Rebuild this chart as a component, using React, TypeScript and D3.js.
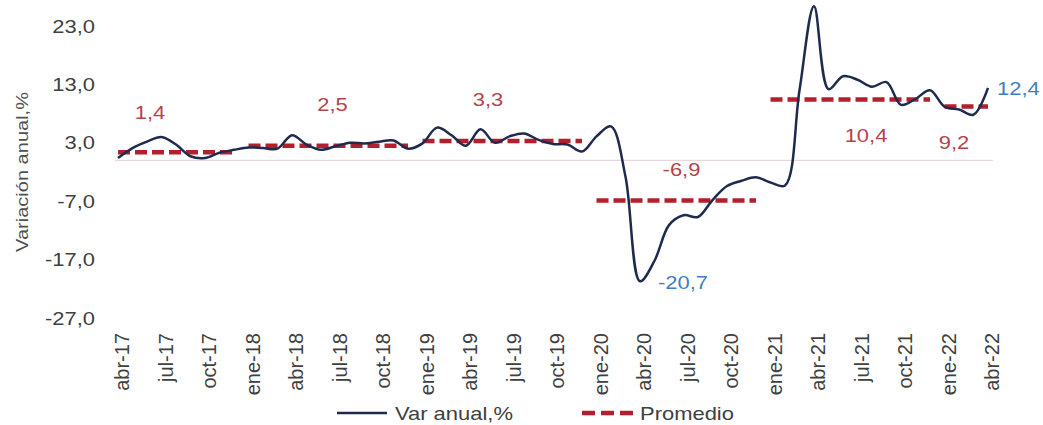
import React from 'react';
import * as d3 from 'd3';

// monthly series abr-17 .. abr-22
const months = [
  'abr-17', 'may-17', 'jun-17', 'jul-17', 'ago-17', 'sep-17', 'oct-17', 'nov-17', 'dic-17',
  'ene-18', 'feb-18', 'mar-18', 'abr-18', 'may-18', 'jun-18', 'jul-18', 'ago-18', 'sep-18', 'oct-18', 'nov-18', 'dic-18',
  'ene-19', 'feb-19', 'mar-19', 'abr-19', 'may-19', 'jun-19', 'jul-19', 'ago-19', 'sep-19', 'oct-19', 'nov-19', 'dic-19',
  'ene-20', 'feb-20', 'mar-20', 'abr-20', 'may-20', 'jun-20', 'jul-20', 'ago-20', 'sep-20', 'oct-20', 'nov-20', 'dic-20',
  'ene-21', 'feb-21', 'mar-21', 'abr-21', 'may-21', 'jun-21', 'jul-21', 'ago-21', 'sep-21', 'oct-21', 'nov-21', 'dic-21',
  'ene-22', 'feb-22', 'mar-22', 'abr-22',
];

const varAnual = [
  0.4, 2.1, 3.2, 4.0, 2.7, 0.7, 0.4, 1.3, 1.8,
  2.2, 2.1, 2.0, 4.3, 2.7, 1.8, 2.4, 3.0, 2.9, 3.2, 3.4, 2.0,
  2.9, 5.6, 4.3, 2.5, 5.3, 3.0, 4.1, 4.6, 3.5, 2.8, 2.7, 1.5,
  4.1, 5.8, -2.8, -20.7, -17.2, -11.1, -9.4, -9.7, -6.8, -4.4, -3.5, -2.9,
  -3.8, -4.3, 12.0, 26.4, 12.2, 14.4, 13.8, 12.6, 13.4, 9.5, 10.5, 12.0,
  9.2, 8.7, 7.8, 12.4,
];

// yearly averages: first month, last month, value
const avgStart = ['abr-17', 'ene-18', 'ene-19', 'ene-20', 'ene-21', 'ene-22'];
const avgEnd = ['dic-17', 'dic-18', 'dic-19', 'dic-20', 'dic-21', 'abr-22'];
const avgValues = [1.4, 2.5, 3.3, -6.9, 10.4, 9.2];
const avgLabelAt = ['jun-17', 'jul-18', 'jun-19', 'jul-20', 'ago-21', 'feb-22'];

const yTicks = [-27, -17, -7, 3, 13, 23];
const xTickLabels = months.filter((_, i) => i % 3 === 0);

const fmt = (v: number) => d3.format('.1f')(v).replace('.', ',').replace('−', '-');

const W = 1043;
const H = 425;
const NAVY = '#1f2a4f';
const RED = '#b3202c';
const RED_TXT = '#b5434b';
const BLUE = '#3f7fbf';
const GREY = '#404040';
const FONT = 'Liberation Sans, Arial, sans-serif';

export default function App() {
  const x = d3.scalePoint<string>().domain(months).range([118, 988]);
  const y = d3.scaleLinear().domain([-27, 23]).range([318, 26]);

  const line = d3.line<number>()
    .x((_, i) => x(months[i]) as number)
    .y(d => y(d))
    .curve(d3.curveCatmullRom);

  const minIdx = d3.minIndex(varAnual);
  const lastIdx = varAnual.length - 1;
  // label nudges relative to the average segment
  const avgDx = [3, -3, -7, -2, -6, -5];
  const avgDy = [-33, -35, -35, -25, 42, 42];

  return (
    <svg width={W} height={H} style={{ position: 'absolute', left: 0, top: 0, background: '#fff' }}
      fontFamily={FONT}>
      {/* zero line */}
      <line x1={115} x2={993} y1={y(0)} y2={y(0)} stroke="#e3d0d6" strokeWidth={1} />

      {/* y ticks */}
      {yTicks.map(t => (
        <text key={t} transform={`translate(95,${y(t) + 6.5}) scale(1.22,1)`} textAnchor="end"
          fontSize={18} fill={GREY}>{fmt(t)}</text>
      ))}

      {/* y title */}
      <text transform={`translate(28,172) rotate(-90)`} textAnchor="middle" fontSize={16}
        textLength={160} lengthAdjust="spacingAndGlyphs" fill="#505050">Variación anual,%</text>

      {/* x ticks */}
      {xTickLabels.map(m => (
        <text key={m} transform={`translate(${(x(m) as number) + 11},333) rotate(-90)`} textAnchor="end"
          fontSize={20} fill={GREY}>{m}</text>
      ))}

      {/* averages */}
      {avgValues.map((v, i) => (
        <line key={'a' + i} x1={x(avgStart[i])} x2={x(avgEnd[i])} y1={y(v)} y2={y(v)}
          stroke={RED} strokeWidth={4.5} strokeDasharray="12,5" />
      ))}

      {/* main series */}
      <path d={line(varAnual) || ''} fill="none" stroke={NAVY} strokeWidth={2.5} />

      {/* average labels */}
      {avgValues.map((v, i) => (
        <text key={'l' + i}
          transform={`translate(${(x(avgLabelAt[i]) as number) + avgDx[i]},${y(v) + avgDy[i]}) scale(1.22,1)`}
          textAnchor="middle" fontSize={18} fill={RED_TXT}>{fmt(v)}</text>
      ))}

      {/* min / last labels */}
      <text transform={`translate(${(x(months[minIdx]) as number) + 18},${y(varAnual[minIdx]) + 8}) scale(1.22,1)`}
        fontSize={18} fill={BLUE}>{fmt(varAnual[minIdx])}</text>
      <text transform={`translate(${(x(months[lastIdx]) as number) + 9},${y(varAnual[lastIdx]) + 7}) scale(1.22,1)`}
        fontSize={18} fill={BLUE}>{fmt(varAnual[lastIdx])}</text>

      {/* legend */}
      <line x1={337} x2={387} y1={413} y2={413} stroke={NAVY} strokeWidth={2.5} />
      <text transform="translate(395,420) scale(1.22,1)" fontSize={18} fill={GREY}>Var anual,%</text>
      <line x1={582} x2={634} y1={413} y2={413} stroke={RED} strokeWidth={4.5} strokeDasharray="13,6" />
      <text transform="translate(640,420) scale(1.22,1)" fontSize={18} fill={GREY}>Promedio</text>
    </svg>
  );
}
